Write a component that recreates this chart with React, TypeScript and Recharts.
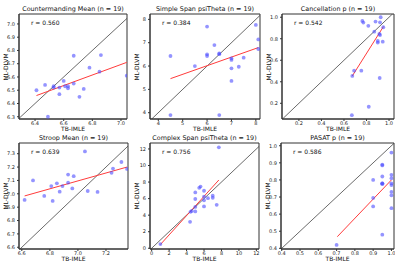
import {
  ReferenceArea,
  ReferenceLine,
  Scatter,
  ScatterChart,
  XAxis,
  YAxis,
} from 'recharts';

const titles = [
  'Countermanding Mean (n = 19)',
  'Simple Span psiTheta (n = 19)',
  'Cancellation p (n = 19)',
  'Stroop Mean (n = 19)',
  'Complex Span psiTheta (n = 19)',
  'PASAT p (n = 19)',
];
const rValues = ['0.560', '0.384', '0.542', '0.639', '0.756', '0.586'];

// Countermanding Mean
const cmTB = [6.41, 6.47, 6.49, 6.53, 6.53, 6.57, 6.57, 6.6, 6.61, 6.63, 6.63, 6.67, 6.67, 6.71, 6.74, 6.78, 6.85, 6.86, 7.04];
const cmML = [6.5, 6.54, 6.3, 6.53, 6.52, 6.52, 6.47, 6.57, 6.53, 6.53, 6.515, 6.55, 6.76, 6.45, 6.51, 6.67, 6.64, 6.765, 6.61];
const cmFit = [[6.41, 6.46], [7.04, 6.71]];

// Simple Span psiTheta
const ssTB = [4.5, 4.5, 5.5, 6.0, 6.0, 6.0, 6.3, 6.5, 6.5, 6.5, 7.0, 7.0, 7.0, 7.0, 7.3, 7.5, 8.0, 8.1, 8.1];
const ssML = [6.43, 3.9, 6.0, 7.69, 6.5, 6.43, 6.9, 6.54, 6.51, 3.9, 6.33, 6.26, 5.9, 5.36, 5.97, 6.36, 7.76, 7.14, 6.73];
const ssFit = [[4.5, 5.46], [8.1, 6.79]];

// Cancellation p
const cpTB = [0.763, 0.772, 0.816, 0.88, 0.926, 0.92, 0.949, 0.869, 0.914, 0.92, 0.9, 0.9, 0.944, 0.69, 0.754, 0.674, 0.917, 0.82, 0.67];
const cpML = [0.966, 0.95, 0.92, 0.96, 1.0, 0.953, 0.907, 0.866, 0.845, 0.835, 0.78, 0.764, 0.773, 0.503, 0.503, 0.454, 0.435, 0.168, 0.09];
const cpFit = [[0.674, 0.454], [0.95, 0.913]];

// Stroop Mean
const stTB = [6.62, 6.68, 6.76, 6.81, 6.82, 6.85, 6.87, 6.89, 6.93, 6.93, 6.96, 6.97, 7.05, 7.07, 7.14, 7.24, 7.25, 7.31, 7.35];
const stML = [6.954, 7.1, 6.984, 7.058, 6.947, 7.078, 7.016, 7.058, 7.083, 7.144, 7.04, 7.132, 7.317, 7.021, 7.014, 7.157, 7.189, 7.238, 7.186];
const stFit = [[6.62, 6.984], [7.35, 7.2]];

// Complex Span psiTheta
const csTB = [1.0, 4.4, 4.45, 4.6, 5.0, 5.0, 5.0, 5.0, 5.45, 5.6, 6.0, 6.0, 6.0, 6.0, 6.45, 7.0, 7.0, 7.45, 7.7];
const csML = [0.5, 3.2, 4.4, 4.5, 4.45, 5.0, 5.95, 6.75, 7.3, 7.45, 6.95, 6.25, 5.8, 5.05, 6.05, 6.35, 6.1, 5.25, 12.2];
const csFit = [[1.0, 0.45], [7.7, 8.25]];

// PASAT p
const paTB = [0.7, 0.9, 0.9, 0.9, 0.95, 0.95, 0.95, 0.95, 0.95, 0.95, 0.95, 1.0, 1.0, 1.0, 1.0, 1.0, 1.0, 1.0, 1.0];
const paML = [0.42, 0.8, 0.695, 0.645, 0.89, 0.885, 0.82, 0.78, 0.775, 0.78, 0.48, 0.96, 0.83, 0.81, 0.78, 0.77, 0.73, 0.71, 0.635];
const paFit = [[0.704, 0.468], [1.0, 0.8]];

const xTickSets = [
  [6.4, 6.6, 6.8, 7.0],
  [4, 5, 6, 7, 8],
  [0.2, 0.4, 0.6, 0.8, 1.0],
  [6.6, 6.8, 7.0, 7.2],
  [0, 2, 4, 6, 8, 10, 12],
  [0.4, 0.5, 0.6, 0.7, 0.8, 0.9, 1.0],
];
const yTickSets = [
  [6.3, 6.4, 6.5, 6.6, 6.7, 6.8, 6.9, 7.0],
  [4, 5, 6, 7, 8],
  [0.2, 0.4, 0.6, 0.8, 1.0],
  [6.6, 6.7, 6.8, 6.9, 7.0, 7.1, 7.2, 7.3],
  [0, 2, 4, 6, 8, 10, 12],
  [0.4, 0.5, 0.6, 0.7, 0.8, 0.9, 1.0],
];

const FONT = '"DejaVu Sans", sans-serif';
const Y_AXIS_W = 16;
const X_AXIS_H = 9;

const zip = (xs: number[], ys: number[]) => xs.map((x, i) => ({ x, y: ys[i] }));

const panels = [
  { xs: cmTB, ys: cmML, fit: cmFit, xd: [6.288, 7.042], yd: [6.283, 7.075], digits: 1, left: 19, top: 14, w: 108, h: 105 },
  { xs: ssTB, ys: ssML, fit: ssFit, xd: [3.66, 8.17], yd: [3.73, 8.23], digits: 0, left: 150, top: 14, w: 110, h: 105 },
  { xs: cpTB, ys: cpML, fit: cpFit, xd: [0.05, 1.044], yd: [0.054, 1.03], digits: 1, left: 282, top: 14, w: 112, h: 105 },
  { xs: stTB, ys: stML, fit: stFit, xd: [6.58, 7.357], yd: [6.587, 7.38], digits: 1, left: 19, top: 143, w: 109, h: 106 },
  { xs: csTB, ys: csML, fit: csFit, xd: [-0.19, 12.3], yd: [-0.09, 12.72], digits: 0, left: 150, top: 143, w: 109, h: 106 },
  { xs: paTB, ys: paML, fit: paFit, xd: [0.396, 1.014], yd: [0.396, 1.016], digits: 1, left: 281, top: 143, w: 113, h: 106 },
];

const Star = (props: any) => (
  <circle cx={props.cx} cy={props.cy} r={1.9} fill="#4d4dff" fillOpacity={0.6} />
);

const tickStyle = { fontSize: 5, fill: '#222', fontFamily: FONT };

function Panel({ idx }: { idx: number }) {
  const p = panels[idx];
  const lo = Math.min(p.xd[0], p.yd[0]);
  const hi = Math.max(p.xd[1], p.yd[1]);
  const fmt = (v: number) => v.toFixed(p.digits);
  return (
    <>
      <div style={{ position: 'absolute', left: p.left - Y_AXIS_W, top: p.top - 1 }}>
        <ScatterChart
          width={p.w + Y_AXIS_W + 1}
          height={p.h + X_AXIS_H + 1}
          margin={{ top: 1, right: 1, bottom: 0, left: 0 }}
        >
          <XAxis
            type="number"
            dataKey="x"
            domain={p.xd}
            allowDataOverflow
            ticks={xTickSets[idx]}
            tickFormatter={fmt}
            height={X_AXIS_H}
            tick={tickStyle}
            tickSize={2}
            tickMargin={0}
            stroke="#333"
          />
          <YAxis
            type="number"
            dataKey="y"
            domain={p.yd}
            allowDataOverflow
            ticks={yTickSets[idx]}
            tickFormatter={fmt}
            width={Y_AXIS_W}
            tick={tickStyle}
            tickSize={2}
            tickMargin={2}
            stroke="#333"
          />
          <ReferenceArea
            x1={p.xd[0]}
            x2={p.xd[1]}
            y1={p.yd[0]}
            y2={p.yd[1]}
            fill="none"
            stroke="#333"
            strokeWidth={1}
          />
          <ReferenceLine
            segment={[{ x: lo, y: lo }, { x: hi, y: hi }]}
            stroke="#444"
            strokeWidth={0.8}
            ifOverflow="hidden"
          />
          <Scatter data={zip(p.xs, p.ys)} shape={Star} isAnimationActive={false} />
          <ReferenceLine
            segment={[{ x: p.fit[0][0], y: p.fit[0][1] }, { x: p.fit[1][0], y: p.fit[1][1] }]}
            stroke="#ff3b3b"
            strokeWidth={1}
            ifOverflow="hidden"
          />
        </ScatterChart>
      </div>
      <div
        style={{
          position: 'absolute',
          left: p.left - 10,
          width: p.w + 20,
          top: p.top - 9,
          fontSize: 6.4,
          lineHeight: '8px',
          textAlign: 'center',
          whiteSpace: 'nowrap',
        }}
      >
        {titles[idx]}
      </div>
      <div style={{ position: 'absolute', left: p.left + 12, top: p.top + 5, fontSize: 6, lineHeight: '8px' }}>
        r = {rValues[idx]}
      </div>
      <div
        style={{
          position: 'absolute',
          left: p.left,
          width: p.w,
          top: p.h + p.top + 7,
          fontSize: 6,
          lineHeight: '6px',
          textAlign: 'center',
        }}
      >
        TB-IMLE
      </div>
      <div
        style={{
          position: 'absolute',
          left: p.left - 14,
          top: p.top + p.h / 2,
          fontSize: 6,
          lineHeight: '7px',
          whiteSpace: 'nowrap',
          transform: 'translate(-50%, -50%) rotate(-90deg)',
        }}
      >
        ML-DLVM
      </div>
    </>
  );
}

export default function App() {
  return (
    <div
      style={{
        position: 'absolute',
        left: 0,
        top: 0,
        width: 399,
        height: 266,
        background: '#fff',
        fontFamily: FONT,
        color: '#111',
      }}
    >
      {panels.map((_, i) => (
        <Panel key={i} idx={i} />
      ))}
    </div>
  );
}
